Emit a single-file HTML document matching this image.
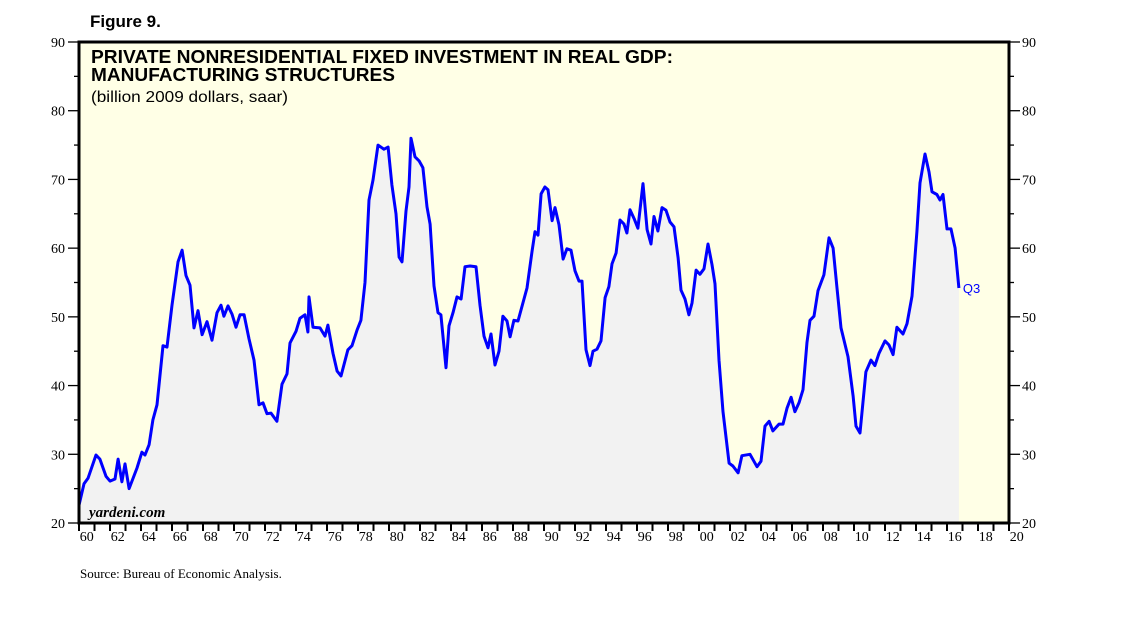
<!DOCTYPE html>
<html><head><meta charset="utf-8">
<style>
html,body{margin:0;padding:0;background:#fff;}
svg{display:block;}
</style></head>
<body>
<svg id="chart" width="1138" height="621" xmlns="http://www.w3.org/2000/svg">
  <text x="90" y="27" font-family="Liberation Sans, sans-serif" font-weight="bold" font-size="17">Figure 9.</text>
  <rect x="79" y="42" width="930" height="481" fill="#FFFFE6"/>
  <g id="marks"></g>
  <rect x="79" y="42" width="930" height="481" fill="none" stroke="#000" stroke-width="3"/>
  <text x="91" y="63" font-family="Liberation Sans, sans-serif" font-weight="bold" font-size="18" textLength="582" lengthAdjust="spacingAndGlyphs">PRIVATE NONRESIDENTIAL FIXED INVESTMENT IN REAL GDP:</text>
  <text x="91" y="81" font-family="Liberation Sans, sans-serif" font-weight="bold" font-size="18" textLength="304" lengthAdjust="spacingAndGlyphs">MANUFACTURING STRUCTURES</text>
  <text x="91" y="102" font-family="Liberation Sans, sans-serif" font-size="16" textLength="197" lengthAdjust="spacingAndGlyphs">(billion 2009 dollars, saar)</text>
  <text x="89" y="517" font-family="Liberation Serif, serif" font-style="italic" font-weight="bold" font-size="15">yardeni.com</text>
  <text x="80" y="578" font-family="Liberation Serif, serif" font-size="13">Source: Bureau of Economic Analysis.</text>
  <g id="axes"></g>
</svg>
<script>
const years = [1960.0,1960.32,1960.58,1961.10,1961.35,1961.74,1962.0,1962.32,1962.52,1962.77,1962.97,1963.23,1963.74,1964.06,1964.26,1964.52,1964.77,1965.03,1965.42,1965.68,1966.0,1966.39,1966.65,1966.90,1967.16,1967.42,1967.68,1967.94,1968.26,1968.58,1968.90,1969.16,1969.35,1969.61,1969.87,1970.13,1970.39,1970.65,1970.97,1971.29,1971.61,1971.87,1972.13,1972.39,1972.77,1973.10,1973.42,1973.61,1974.0,1974.26,1974.58,1974.77,1974.84,1975.10,1975.55,1975.87,1976.06,1976.39,1976.65,1976.90,1977.35,1977.61,1977.94,1978.19,1978.45,1978.71,1978.97,1979.29,1979.68,1979.94,1980.19,1980.45,1980.65,1980.84,1981.10,1981.29,1981.42,1981.68,1981.94,1982.19,1982.45,1982.65,1982.90,1983.16,1983.35,1983.68,1983.87,1984.13,1984.39,1984.65,1984.90,1985.23,1985.61,1985.87,1986.13,1986.39,1986.58,1986.84,1987.10,1987.35,1987.61,1987.81,1988.06,1988.32,1988.71,1988.90,1989.23,1989.42,1989.61,1989.81,1990.06,1990.26,1990.52,1990.71,1990.97,1991.23,1991.48,1991.74,1992.0,1992.26,1992.45,1992.71,1992.97,1993.16,1993.42,1993.68,1993.94,1994.19,1994.39,1994.65,1994.90,1995.16,1995.35,1995.55,1995.81,1996.06,1996.39,1996.65,1996.90,1997.10,1997.35,1997.61,1997.87,1998.13,1998.39,1998.65,1998.84,1999.10,1999.35,1999.55,1999.81,2000.06,2000.32,2000.58,2000.84,2001.03,2001.29,2001.55,2001.94,2002.19,2002.52,2002.77,2003.29,2003.74,2004.0,2004.26,2004.52,2004.77,2005.16,2005.42,2005.68,2005.94,2006.19,2006.45,2006.71,2006.97,2007.16,2007.42,2007.68,2008.06,2008.39,2008.65,2008.90,2009.16,2009.61,2009.94,2010.13,2010.39,2010.77,2011.10,2011.35,2011.61,2012.0,2012.26,2012.52,2012.77,2013.16,2013.42,2013.74,2014.06,2014.26,2014.58,2014.84,2015.03,2015.35,2015.55,2015.74,2016.0,2016.26,2016.52,2016.77];
const values = [22.6,25.7,26.5,29.9,29.3,26.8,26.1,26.4,29.3,26.0,28.6,25.0,28.0,30.3,29.9,31.4,35.0,37.2,45.8,45.6,51.7,58.0,59.7,56.0,54.6,48.4,50.9,47.4,49.3,46.6,50.6,51.7,50.1,51.6,50.4,48.5,50.3,50.3,46.8,43.7,37.2,37.5,35.9,36.0,34.8,40.2,41.7,46.2,47.9,49.8,50.3,47.8,52.9,48.5,48.4,47.2,48.8,44.7,42.1,41.4,45.2,45.8,48.1,49.5,55.0,67.0,69.9,75.0,74.4,74.7,69.2,65.0,58.7,58.0,65.4,68.9,76.0,73.3,72.7,71.7,66.0,63.5,54.5,50.6,50.3,42.6,48.7,50.6,52.9,52.6,57.3,57.4,57.3,51.7,47.2,45.5,47.5,43.0,45.0,50.1,49.4,47.1,49.5,49.4,52.6,54.2,59.6,62.4,61.9,67.9,68.9,68.5,64.0,65.9,63.4,58.4,59.9,59.7,56.7,55.2,55.2,45.2,42.9,45.0,45.3,46.5,52.8,54.4,57.7,59.3,64.1,63.5,62.2,65.6,64.3,62.9,69.4,62.7,60.6,64.6,62.5,65.9,65.5,63.8,63.1,58.6,53.9,52.6,50.3,52.0,56.8,56.2,57.0,60.6,57.6,54.8,43.7,36.2,28.7,28.3,27.3,29.8,30.0,28.2,29.0,34.1,34.8,33.4,34.4,34.4,36.7,38.3,36.2,37.5,39.4,46.3,49.5,50.1,53.8,56.1,61.5,60.0,54.2,48.4,44.2,38.5,34.1,33.1,42.0,43.7,42.9,44.7,46.5,45.9,44.5,48.5,47.5,49.0,53.0,62.4,69.5,73.7,71.1,68.2,67.8,67.0,67.8,62.8,62.8,60.0,54.2];
const yTicks = [20,30,40,50,60,70,80,90];
const xLabels = ["60","62","64","66","68","70","72","74","76","78","80","82","84","86","88","90","92","94","96","98","00","02","04","06","08","10","12","14","16","18","20"];
const lastLabel = "Q3";

const X0=79, X1=1009, Y0=523, Y1=42, YR0=1960, YR1=2020, V0=20, V1=90;
const xs = yr => X0 + (yr-YR0)/(YR1-YR0)*(X1-X0);
const ys = v => Y0 - (v-V0)/(V1-V0)*(Y0-Y1);
const NS="http://www.w3.org/2000/svg";
function mk(tag, attrs, parent){const e=document.createElementNS(NS,tag);for(const k in attrs)e.setAttribute(k,attrs[k]);parent.appendChild(e);return e;}

const marks=document.getElementById('marks');
let pts = years.map((y,i)=>xs(y).toFixed(1)+','+ys(values[i]).toFixed(1));
const area = mk('polygon',{points: xs(years[0]).toFixed(1)+','+Y0+' '+pts.join(' ')+' '+xs(years[years.length-1]).toFixed(1)+','+Y0, fill:'#F2F2F2'}, marks);


const line = mk('polyline',{points: pts.join(' '), fill:'none', stroke:'#0000FF','stroke-width':3,'stroke-linejoin':'round'}, marks);


const q = mk('text',{x: xs(years[years.length-1])+4, y: ys(values[values.length-1])+5, fill:'#0000FF','font-family':'Liberation Sans, sans-serif','font-size':13}, marks);
q.textContent = lastLabel;



const axes=document.getElementById('axes');
const serif='Liberation Serif, serif';
yTicks.forEach(v=>{
  const y=ys(v);
  const t1=mk('line',{x1:68,x2:X0,y1:y,y2:y,stroke:'#000','stroke-width':1.3},axes);
  
  
  const t2=mk('line',{x1:X1,x2:1020,y1:y,y2:y,stroke:'#000','stroke-width':1.3},axes);
  
  
  const l=mk('text',{x:65,y:y+5,'text-anchor':'end','font-family':serif,'font-size':14},axes);
  l.textContent=v;
  
  
  const r=mk('text',{x:1022,y:y+5,'font-family':serif,'font-size':14},axes);
  r.textContent=v;
  
  
  if(v<V1){
    const m=ys(v+5);
    const a=mk('line',{x1:74,x2:X0,y1:m,y2:m,stroke:'#000','stroke-width':1.3},axes);
    
    
    const b=mk('line',{x1:X1,x2:1014,y1:m,y2:m,stroke:'#000','stroke-width':1.3},axes);
    
    
  }
});
for(let yr=YR0; yr<=YR1; yr++){
  const x=xs(yr);
  const t=mk('line',{x1:x,x2:x,y1:Y0,y2:Y0+8,stroke:'#000','stroke-width':2},axes);
  
  
}
xLabels.forEach((s,i)=>{
  const yr=YR0+2*i;
  const l=mk('text',{x:xs(yr+0.5),y:541,'text-anchor':'middle','font-family':serif,'font-size':14},axes);
  l.textContent=s;
  
  
});
</script>
</body></html>
